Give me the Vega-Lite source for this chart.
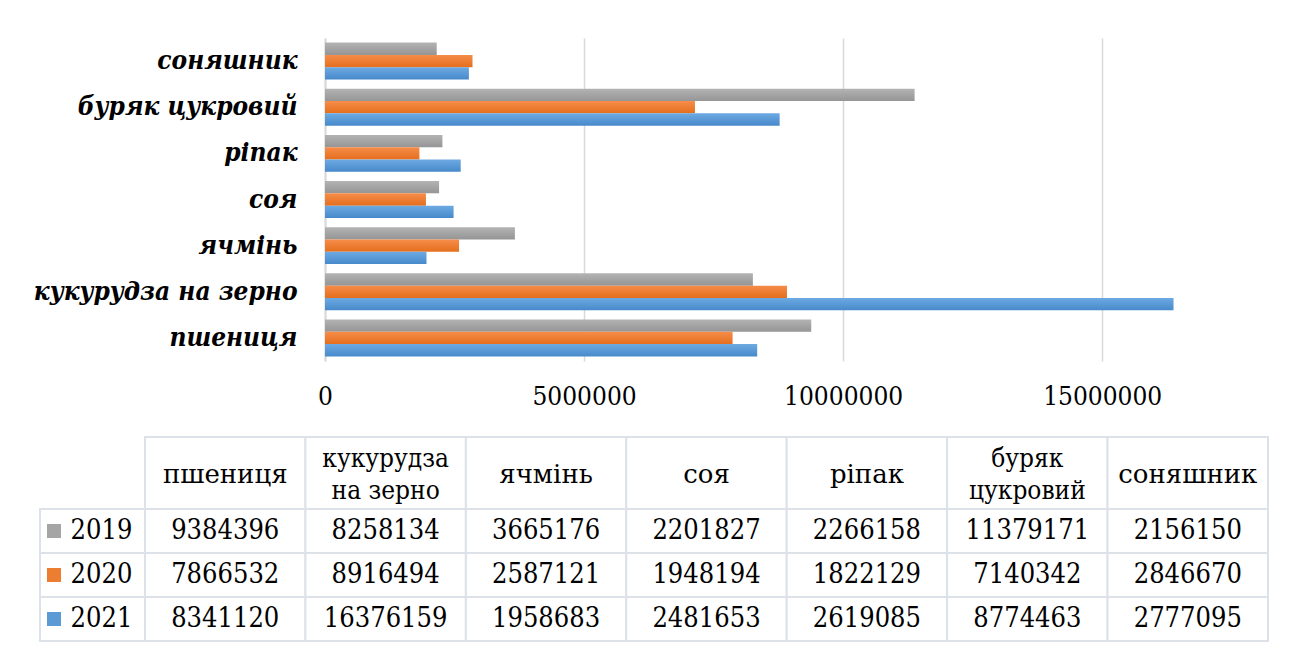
{
  "$schema": "https://vega.github.io/schema/vega-lite/v6.json",
  "autosize": {"type": "none"},
  "padding": {"left": 325, "top": 38, "right": 977, "bottom": 627},
  "background": "white",
  "config": {
    "view": {"stroke": null},
    "font": "DejaVu Serif Condensed"
  },
  "datasets": {
    "prod": [
      {"crop": "пшениця", "year": 2019, "value": 9384396},
      {"crop": "пшениця", "year": 2020, "value": 7866532},
      {"crop": "пшениця", "year": 2021, "value": 8341120},
      {"crop": "кукурудза на зерно", "year": 2019, "value": 8258134},
      {"crop": "кукурудза на зерно", "year": 2020, "value": 8916494},
      {"crop": "кукурудза на зерно", "year": 2021, "value": 16376159},
      {"crop": "ячмінь", "year": 2019, "value": 3665176},
      {"crop": "ячмінь", "year": 2020, "value": 2587121},
      {"crop": "ячмінь", "year": 2021, "value": 1958683},
      {"crop": "соя", "year": 2019, "value": 2201827},
      {"crop": "соя", "year": 2020, "value": 1948194},
      {"crop": "соя", "year": 2021, "value": 2481653},
      {"crop": "ріпак", "year": 2019, "value": 2266158},
      {"crop": "ріпак", "year": 2020, "value": 1822129},
      {"crop": "ріпак", "year": 2021, "value": 2619085},
      {"crop": "буряк цукровий", "year": 2019, "value": 11379171},
      {"crop": "буряк цукровий", "year": 2020, "value": 7140342},
      {"crop": "буряк цукровий", "year": 2021, "value": 8774463},
      {"crop": "соняшник", "year": 2019, "value": 2156150},
      {"crop": "соняшник", "year": 2020, "value": 2846670},
      {"crop": "соняшник", "year": 2021, "value": 2777095}
    ],
    "crops": [
      {"crop": "пшениця", "header": "пшениця"},
      {"crop": "кукурудза на зерно", "header": "кукурудза\nна зерно"},
      {"crop": "ячмінь", "header": "ячмінь"},
      {"crop": "соя", "header": "соя"},
      {"crop": "ріпак", "header": "ріпак"},
      {"crop": "буряк цукровий", "header": "буряк\nцукровий"},
      {"crop": "соняшник", "header": "соняшник"}
    ],
    "years": [
      {"year": 2019},
      {"year": 2020},
      {"year": 2021}
    ]
  },
  "spacing": 27,
  "vconcat": [
    {
      "width": 943,
      "height": 323,
      "data": {"name": "prod"},
      "encoding": {
        "y": {
          "field": "crop",
          "type": "nominal",
          "scale": {
            "domain": ["соняшник", "буряк цукровий", "ріпак", "соя", "ячмінь", "кукурудза на зерно", "пшениця"],
            "paddingInner": 0.2,
            "paddingOuter": 0.1
          },
          "axis": {
            "title": null,
            "ticks": false,
            "tickSize": 0,
            "labelPadding": 28,
            "labelLimit": 0,
            "labelFont": "DejaVu Serif Condensed",
            "labelFontSize": 26,
            "labelFontWeight": "bold",
            "labelFontStyle": "italic",
            "labelColor": "black",
            "domainColor": "#d9d9d9",
            "domainWidth": 2,
            "grid": false
          }
        },
        "yOffset": {
          "field": "year",
          "type": "ordinal",
          "scale": {"domain": [2019, 2020, 2021], "paddingInner": 0, "paddingOuter": 0}
        },
        "x": {
          "field": "value",
          "type": "quantitative",
          "scale": {"domain": [0, 18200000], "nice": false},
          "axis": {
            "title": null,
            "values": [0, 5000000, 10000000, 15000000],
            "format": "d",
            "domain": false,
            "ticks": false,
            "tickSize": 0,
            "labelFlush": false,
            "labelPadding": 22,
            "labelFont": "DejaVu Serif Condensed",
            "labelFontSize": 26,
            "labelColor": "black",
            "grid": true,
            "gridColor": "#d9d9d9",
            "gridWidth": 1.5
          }
        }
      },
      "layer": [
        {
          "transform": [{"filter": "datum.year == 2019"}],
          "mark": {
            "type": "bar",
            "color": {"gradient": "linear", "x1": 0, "y1": 0, "x2": 0, "y2": 1,
              "stops": [{"offset": 0, "color": "#b3b3b3"}, {"offset": 1, "color": "#959595"}]}
          }
        },
        {
          "transform": [{"filter": "datum.year == 2020"}],
          "mark": {
            "type": "bar",
            "color": {"gradient": "linear", "x1": 0, "y1": 0, "x2": 0, "y2": 1,
              "stops": [{"offset": 0, "color": "#f68d4a"}, {"offset": 1, "color": "#e56e1d"}]}
          }
        },
        {
          "transform": [{"filter": "datum.year == 2021"}],
          "mark": {
            "type": "bar",
            "color": {"gradient": "linear", "x1": 0, "y1": 0, "x2": 0, "y2": 1,
              "stops": [{"offset": 0, "color": "#6daae2"}, {"offset": 1, "color": "#4789cb"}]}
          }
        }
      ]
    },
    {
      "width": 943,
      "height": 204,
      "layer": [
        {
          "data": {"name": "crops"},
          "encoding": {
            "x": {"field": "crop", "type": "nominal",
              "scale": {"domain": ["пшениця", "кукурудза на зерно", "ячмінь", "соя", "ріпак", "буряк цукровий", "соняшник"],
                "range": [-180, 943], "paddingInner": 0, "paddingOuter": 0},
              "axis": null},
            "y": {"datum": "header", "type": "nominal",
              "scale": {"domain": ["header"], "range": [0, 72], "paddingInner": 0, "paddingOuter": 0},
              "axis": null}
          },
          "layer": [
            {"mark": {"type": "rect", "fill": "white", "stroke": "#dde1e8", "strokeWidth": 2}},
            {"transform": [{"filter": "indexof(datum.header, '\\n') < 0"}],
             "mark": {"type": "text", "font": "DejaVu Serif", "fontSize": 26, "color": "black", "baseline": "middle", "align": "center", "dy": 2},
             "encoding": {"text": {"field": "header", "type": "nominal"}}},
            {"transform": [{"filter": "indexof(datum.header, '\\n') >= 0"}],
             "mark": {"type": "text", "font": "DejaVu Serif Condensed", "lineBreak": "\n", "lineHeight": 32, "fontSize": 26, "color": "black", "baseline": "middle", "align": "center", "dy": -14},
             "encoding": {"text": {"field": "header", "type": "nominal"}}}
          ]
        },
        {
          "data": {"name": "prod"},
          "encoding": {
            "x": {"field": "crop", "type": "nominal",
              "scale": {"domain": ["пшениця", "кукурудза на зерно", "ячмінь", "соя", "ріпак", "буряк цукровий", "соняшник"],
                "range": [-180, 943], "paddingInner": 0, "paddingOuter": 0},
              "axis": null},
            "y": {"field": "year", "type": "ordinal",
              "scale": {"domain": [2019, 2020, 2021], "range": [72, 204], "paddingInner": 0, "paddingOuter": 0},
              "axis": null}
          },
          "layer": [
            {"mark": {"type": "rect", "fill": "white", "stroke": "#dde1e8", "strokeWidth": 2}},
            {"mark": {"type": "text", "font": "DejaVu Serif Condensed", "fontSize": 27, "color": "black", "baseline": "middle", "align": "center"},
             "encoding": {"text": {"field": "value", "type": "quantitative", "format": "d"}}}
          ]
        },
        {
          "data": {"name": "years"},
          "encoding": {
            "x": {"datum": "legend", "type": "nominal",
              "scale": {"domain": ["legend"], "range": [-285, -180], "paddingInner": 0, "paddingOuter": 0},
              "axis": null},
            "y": {"field": "year", "type": "ordinal",
              "scale": {"domain": [2019, 2020, 2021], "range": [72, 204], "paddingInner": 0, "paddingOuter": 0},
              "axis": null}
          },
          "layer": [
            {"mark": {"type": "rect", "fill": "white", "stroke": "#dde1e8", "strokeWidth": 2}},
            {"mark": {"type": "point", "shape": "square", "filled": true, "size": 196, "opacity": 1, "xOffset": -38.5},
             "encoding": {"color": {"field": "year", "type": "ordinal",
               "scale": {"domain": [2019, 2020, 2021], "range": ["#a5a5a5", "#ed7d31", "#5b9bd5"]}, "legend": null}}},
            {"mark": {"type": "text", "font": "DejaVu Serif Condensed", "fontSize": 27, "color": "black", "baseline": "middle", "align": "center", "dx": 9},
             "encoding": {"text": {"field": "year", "type": "nominal"}}}
          ]
        }
      ],
      "resolve": {"scale": {"x": "independent", "y": "independent", "color": "independent"}}
    }
  ]
}
